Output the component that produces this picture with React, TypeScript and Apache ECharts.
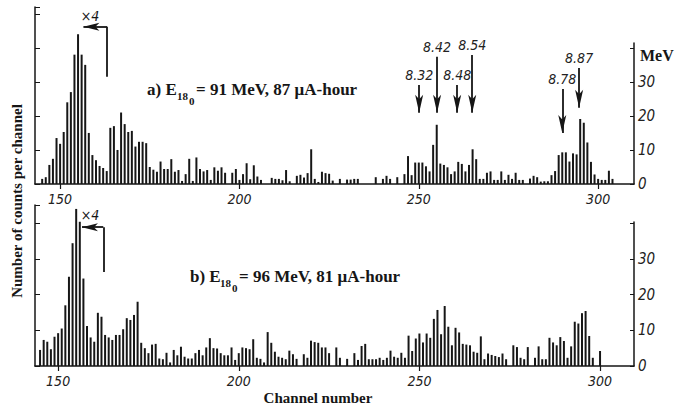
import React, { useEffect, useRef } from 'react';
import * as echarts from 'echarts';

// Panel a) — counts per channel starting at channel 145
const startA = 145;
const countsA = [
  1.5, 2, 5.6, 7.4, 13.5, 11.8, 15.3, 24, 27, 38,
  44, 38, 35, 15, 8.5, 7, 5.3, 4.7, 3.8, 16.5,
  17, 10, 21, 17.6, 15.3, 15.6, 11, 12.4, 12.4, 12,
  5, 4.2, 3.6, 6.6, 4.4, 4.4, 7.3, 3.6, 4.1, 0.9,
  2.9, 7.4, 0.9, 7.8, 4.4, 3.7, 4.1, 1.2, 4.9, 3.9,
  4.9, 3.3, 0, 3.3, 4.4, 1.2, 2.9, 6.1, 1.4, 5.5,
  2.2, 1.2, 0, 0, 1.8, 1.5, 1.5, 1.1, 4.1, 0.8,
  0, 2.4, 2.7, 1.9, 3.2, 10.2, 1.5, 0.6, 3.6, 3.2,
  3, 1, 0, 1.5, 0, 1.3, 1.3, 1.5, 1.5, 0,
  0, 0, 0, 2, 0, 1.5, 2.4, 1.5, 0, 2,
  0, 2.9, 8.2, 2.6, 6.3, 6.3, 6.3, 5.2, 3.7, 11.5,
  17.4, 6, 5.6, 4.9, 2.9, 3.7, 6.5, 5.9, 3.7, 5.6,
  10.2, 7.3, 1.5, 1.5, 3.3, 3.7, 1.2, 1.2, 3.7, 1.2,
  2.7, 1.5, 3.3, 1.2, 1.2, 0, 1.6, 2.4, 2, 0.7,
  0.8, 0.8, 2.6, 3.8, 8.5, 9.3, 9.3, 6.6, 9, 8.7,
  19.1, 18, 12.2, 6.5, 2.8, 1.5, 1.2, 1.2, 3.9, 1.5,
];

// Panel b) — counts per channel starting at channel 145
const startB = 145;
const countsB = [
  4.5, 7.3, 6.8, 4.7, 8.2, 9.2, 10.5, 17, 25, 34.4,
  44, 40.4, 24.5, 11.2, 8, 6.8, 14.9, 13.8, 8.7, 8,
  7.3, 8.7, 8.7, 10.3, 13.4, 12.9, 14.3, 18, 6.5, 5,
  3.6, 6, 6.2, 2.1, 1.9, 3.7, 1, 4.5, 3, 5.4,
  2.6, 2.1, 2.1, 3.6, 4.5, 3, 5.2, 7.8, 5, 4.9,
  3.6, 3, 3, 5.2, 1.7, 3.6, 5.2, 5, 4.7, 7.5,
  2.3, 2, 1, 9.5, 6.5, 4, 2.6, 2.3, 1.9, 4.3,
  3.3, 2, 0, 3.3, 2.3, 7.1, 6.7, 6.5, 5.2, 5.2,
  3.6, 0, 5.2, 2.3, 0, 2, 0, 3.6, 1.7, 5.6,
  6.2, 1.9, 1.9, 1.9, 2.3, 1.7, 2.3, 4.3, 2.6, 2.3,
  3.7, 2.3, 8.5, 4.2, 7.7, 9.1, 6.6, 9.1, 7.9, 13.2,
  15.7, 8.9, 16.8, 11, 5.8, 10.7, 9.4, 6.2, 6, 5.8,
  4, 3.7, 8.3, 1.9, 3.5, 3.1, 2.8, 2.5, 3.5, 1.9,
  0, 5.8, 5.3, 2.3, 1.9, 5.3, 0, 2.3, 5.5, 1.9,
  1.9, 7.9, 6.6, 5.8, 8.1, 7, 2.3, 5.5, 12.4, 11.9,
  14.8, 15.4, 8.4, 2.3, 0, 4.2,
];

const tickChannels = [150, 200, 250, 300];
const rightTickLabels = [0, 10, 20, 30];

// Energy markers in panel a) (MeV), channel they point at, arrow top and tip (counts)
const energyLabels = ['8.32', '8.42', '8.48', '8.54', '8.78', '8.87'];
const energyChannels = [250.1, 255.1, 260.7, 264.9, 290.0, 294.7];
const arrowTops = [29.1, 37.4, 29.1, 37.9, 27.9, 34.1];
const arrowTips = [20.9, 20.9, 20.9, 20.9, 15.0, 22.4];

// "x4" scale markers: [corner channel, tip channel, top count, bottom count]
const x4A = [163.1, 156.5, 46.2, 31.5];
const x4B = [162.5, 156.6, 38.9, 26.3];

const NUM_FONT = '"Liberation Sans Narrow", "DejaVu Sans Condensed", "Liberation Sans", sans-serif';
const SERIF = '"Liberation Serif", "DejaVu Serif", serif';
const INK = '#161616';

function toPairs(start: number, arr: number[]) {
  const out: number[][] = [];
  arr.forEach((v, i) => {
    if (v > 0) out.push([start + i, v]);
  });
  return out;
}

function mkX(gridIndex: number, min: number, max: number, show: boolean) {
  return {
    type: 'value',
    gridIndex,
    min,
    max,
    show,
    axisLine: { show: true, onZero: false, lineStyle: { color: INK, width: 1.5 } },
    axisTick: {
      show: true,
      customValues: tickChannels,
      length: 5,
      lineStyle: { color: INK, width: 1.2 },
    },
    axisLabel: {
      customValues: tickChannels,
      fontFamily: NUM_FONT,
      fontStyle: 'italic',
      fontSize: 14,
      color: '#222',
      margin: 8,
    },
    splitLine: { show: false },
  };
}

function mkYLeft(gridIndex: number, max: number) {
  return {
    type: 'value',
    gridIndex,
    position: 'left',
    min: 0,
    max,
    interval: 10,
    axisLine: { show: true, lineStyle: { color: INK, width: 1.5 } },
    axisTick: { show: true, inside: true, length: 5, lineStyle: { color: INK, width: 1 } },
    axisLabel: { show: false },
    splitLine: { show: false },
  };
}

function mkYRight(gridIndex: number, max: number) {
  return {
    type: 'value',
    gridIndex,
    position: 'right',
    min: 0,
    max,
    interval: 10,
    axisLine: { show: true, lineStyle: { color: INK, width: 1.5 } },
    axisTick: { show: true, inside: true, length: 4, lineStyle: { color: INK, width: 1 } },
    axisLabel: {
      show: true,
      fontFamily: NUM_FONT,
      fontStyle: 'italic',
      fontSize: 15,
      color: '#222',
      margin: 4,
      showMaxLabel: false,
      formatter: (v: number) => (rightTickLabels.indexOf(v) >= 0 ? String(v) : ''),
    },
    splitLine: { show: false },
  };
}

function x4MarkLines(m: number[]) {
  const [corner, tip, top, bottom] = m;
  return [
    [
      { coord: [corner, top], symbol: 'none' },
      { coord: [tip, top], symbol: 'arrow', symbolSize: [6, 16] },
    ],
    [
      { coord: [corner, top], symbol: 'none' },
      { coord: [corner, bottom], symbol: 'none' },
    ],
  ];
}

function energyMarkLines() {
  return energyLabels.map((lab, i) => [
    {
      name: lab,
      coord: [energyChannels[i], arrowTops[i]],
      symbol: 'none',
      label: {
        show: true,
        position: 'start',
        formatter: lab,
        fontFamily: NUM_FONT,
        fontStyle: 'italic',
        fontSize: 14,
        color: '#222',
        distance: 3,
      },
    },
    { coord: [energyChannels[i], arrowTips[i]], symbol: 'arrow', symbolSize: [6, 18] },
  ]);
}

function subText(x: number, y: number, t: string, size: number) {
  return {
    type: 'text',
    x,
    y,
    style: {
      text: t,
      fontFamily: SERIF,
      fontWeight: 'bold',
      fontSize: size,
      fill: INK,
      textAlign: 'left',
      textVerticalAlign: 'middle',
    },
  };
}

export default function App() {
  const ref = useRef<HTMLDivElement>(null);

  useEffect(() => {
    if (!ref.current) return;
    const chart = echarts.init(ref.current, undefined, { renderer: 'svg' });
    const barStyle = { color: INK };
    const option: any = {
      animation: false,
      backgroundColor: '#ffffff',
      grid: [
        { left: 35, right: 47, top: 7, bottom: 225 },
        { left: 35, right: 47, top: 43, bottom: 225 },
        { left: 35, right: 47, top: 205, bottom: 43 },
        { left: 35, right: 47, top: 222, bottom: 43 },
      ],
      xAxis: [
        mkX(0, 143, 310, true),
        mkX(1, 143, 310, false),
        mkX(2, 143.6, 309.4, true),
        mkX(3, 143.6, 309.4, false),
      ],
      yAxis: [mkYLeft(0, 52), mkYRight(1, 41.5), mkYLeft(2, 45.1), mkYRight(3, 40.3)],
      series: [
        {
          type: 'bar',
          xAxisIndex: 0,
          yAxisIndex: 0,
          data: toPairs(startA, countsA),
          barWidth: 2,
          itemStyle: barStyle,
          silent: true,
          markLine: {
            silent: true,
            symbol: ['none', 'arrow'],
            lineStyle: { color: INK, width: 1.8, type: 'solid' },
            label: { show: false },
            emphasis: { disabled: true },
            data: [...energyMarkLines(), ...x4MarkLines(x4A)],
          },
        },
        { type: 'line', xAxisIndex: 1, yAxisIndex: 1, data: [] },
        {
          type: 'bar',
          xAxisIndex: 2,
          yAxisIndex: 2,
          data: toPairs(startB, countsB),
          barWidth: 2,
          itemStyle: barStyle,
          silent: true,
          markLine: {
            silent: true,
            symbol: ['none', 'arrow'],
            lineStyle: { color: INK, width: 1.8, type: 'solid' },
            label: { show: false },
            emphasis: { disabled: true },
            data: x4MarkLines(x4B),
          },
        },
        { type: 'line', xAxisIndex: 3, yAxisIndex: 3, data: [] },
      ],
      graphic: [
        // y-axis title
        {
          type: 'text',
          x: 17,
          y: 201,
          rotation: Math.PI / 2,
          style: {
            text: 'Number of counts per channel',
            fontFamily: SERIF,
            fontWeight: 'bold',
            fontSize: 15,
            fill: INK,
            textAlign: 'center',
            textVerticalAlign: 'middle',
          },
        },
        // x-axis title
        {
          type: 'text',
          x: 318,
          y: 398,
          style: {
            text: 'Channel number',
            fontFamily: SERIF,
            fontWeight: 'bold',
            fontSize: 15,
            fill: INK,
            textAlign: 'center',
            textVerticalAlign: 'middle',
          },
        },
        // MeV
        subText(640, 55, 'MeV', 16),
        // x4 labels
        {
          type: 'text',
          x: 90,
          y: 16,
          style: {
            text: '×4',
            fontFamily: NUM_FONT,
            fontStyle: 'italic',
            fontSize: 14,
            fill: INK,
            textAlign: 'center',
            textVerticalAlign: 'middle',
          },
        },
        {
          type: 'text',
          x: 90,
          y: 215,
          style: {
            text: '×4',
            fontFamily: NUM_FONT,
            fontStyle: 'italic',
            fontSize: 14,
            fill: INK,
            textAlign: 'center',
            textVerticalAlign: 'middle',
          },
        },
        // panel a label
        subText(147, 89, 'a) E', 17),
        subText(177, 96, '18', 11),
        subText(189, 101, '0', 11),
        subText(196, 89, '= 91 MeV, 87 μA-hour', 17),
        // panel b label
        subText(190, 276, 'b) E', 17),
        subText(220, 283, '18', 11),
        subText(232, 288, '0', 11),
        subText(239, 276, '= 96 MeV, 81 μA-hour', 17),
      ],
    };
    chart.setOption(option);
    return () => chart.dispose();
  }, []);

  return (
    <div
      ref={ref}
      style={{ position: 'fixed', left: 0, top: 0, width: 681, height: 409, background: '#fff' }}
    />
  );
}
